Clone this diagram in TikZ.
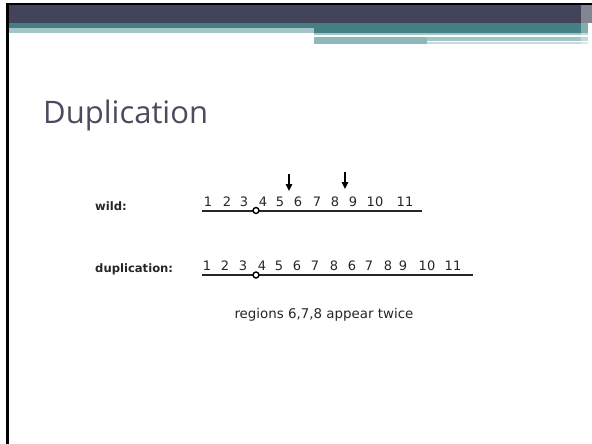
\documentclass[tikz,border=0pt]{standalone}
\usepackage{fontspec}
\setmainfont{DejaVu Sans}
\newfontfamily\titlefont{Open Sans}
\usetikzlibrary{arrows.meta}
\definecolor{bandDark}{HTML}{43445A}
\definecolor{bandTeal}{HTML}{447F84}
\definecolor{bandLight}{HTML}{A3C5C6}
\definecolor{bandPale}{HTML}{C9DCDD}
\definecolor{titleGray}{HTML}{4B4B5F}
\definecolor{textGray}{HTML}{262626}
\tikzstyle{label} = [anchor=base west, inner sep=0pt, font=\bfseries\fontsize{11.6}{13}\selectfont, text=textGray]
\tikzstyle{digit} = [anchor=base, inner sep=0pt, font=\fontsize{13}{14}\selectfont, text=textGray]
\tikzstyle{caption} = [anchor=base, inner sep=0pt, font=\fontsize{13.4}{14}\selectfont, text=textGray]
\tikzstyle{chrom} = [line width=2pt, textGray]
\tikzstyle{centromere} = [circle, draw=black, line width=1.4pt, fill=white, inner sep=0pt, minimum size=6pt]
\tikzstyle{arrow} = [line width=1.2pt, -{Triangle[length=7pt,width=6.5pt]}]

\begin{document}
\begin{tikzpicture}[x=1pt, y=-1pt]
    \useasboundingbox (0,0) rectangle (592,444);

    % slide header
    \fill[black] (6,3) rectangle (592,5);
    \fill[black] (6,3) rectangle (9,444);
    \fill[bandDark] (9,5) rectangle (592,23);
    \fill[bandTeal] (9,23) rectangle (588,28);
    \fill[bandLight] (9,28) rectangle (314,33);
    \fill[bandTeal] (314,28) rectangle (588,33);
    \fill[bandLight] (314,33) rectangle (588,35);
    \fill[bandLight] (314,37) rectangle (588,41);
    \fill[bandLight!80!bandTeal] (314,37) rectangle (427,44);
    \fill[bandPale] (427,42) rectangle (588,44);
    \fill[white, opacity=0.35] (581,5) rectangle (592,44);

    \node (title) [anchor=base west, inner sep=0pt, text=titleGray, font=\titlefont\fontsize{31}{33}\selectfont] at (43,123) {Duplication};

    % wild type
    \node (wild) [label] at (95,210) {wild:};
    \foreach \d/\x [count=\i] in {1/208,2/227,3/244,4/263,5/280,6/298,7/317,8/335,9/353,10/375,11/405}
        \node (w\i) [digit] at (\x,206.5) {\d};
    \coordinate (wl) at (202,210.5);
    \coordinate (wr) at (422,210.5);
    \draw [chrom] (wl) -- (wr);
    \node (wc) [centromere] at (256,210.5) {};
    \coordinate (a1s) at (289,174);
    \coordinate (a1e) at (289,191);
    \coordinate (a2s) at (345,172);
    \coordinate (a2e) at (345,189);
    \draw [arrow] (a1s) -- (a1e);
    \draw [arrow] (a2s) -- (a2e);

    % duplication
    \node (dup) [label] at (95,272) {duplication:};
    \foreach \d/\x [count=\i] in {1/207,2/225,3/243,4/262,5/279,6/297,7/315,8/334,6/352,7/369,8/388,9/403,10/427,11/453}
        \node (d\i) [digit] at (\x,270) {\d};
    \coordinate (dl) at (202,275);
    \coordinate (dr) at (473,275);
    \draw [chrom] (dl) -- (dr);
    \node (dc) [centromere] at (256,275) {};

    \node (note) [caption] at (324,318) {regions 6,7,8 appear twice};
\end{tikzpicture}
\end{document}
